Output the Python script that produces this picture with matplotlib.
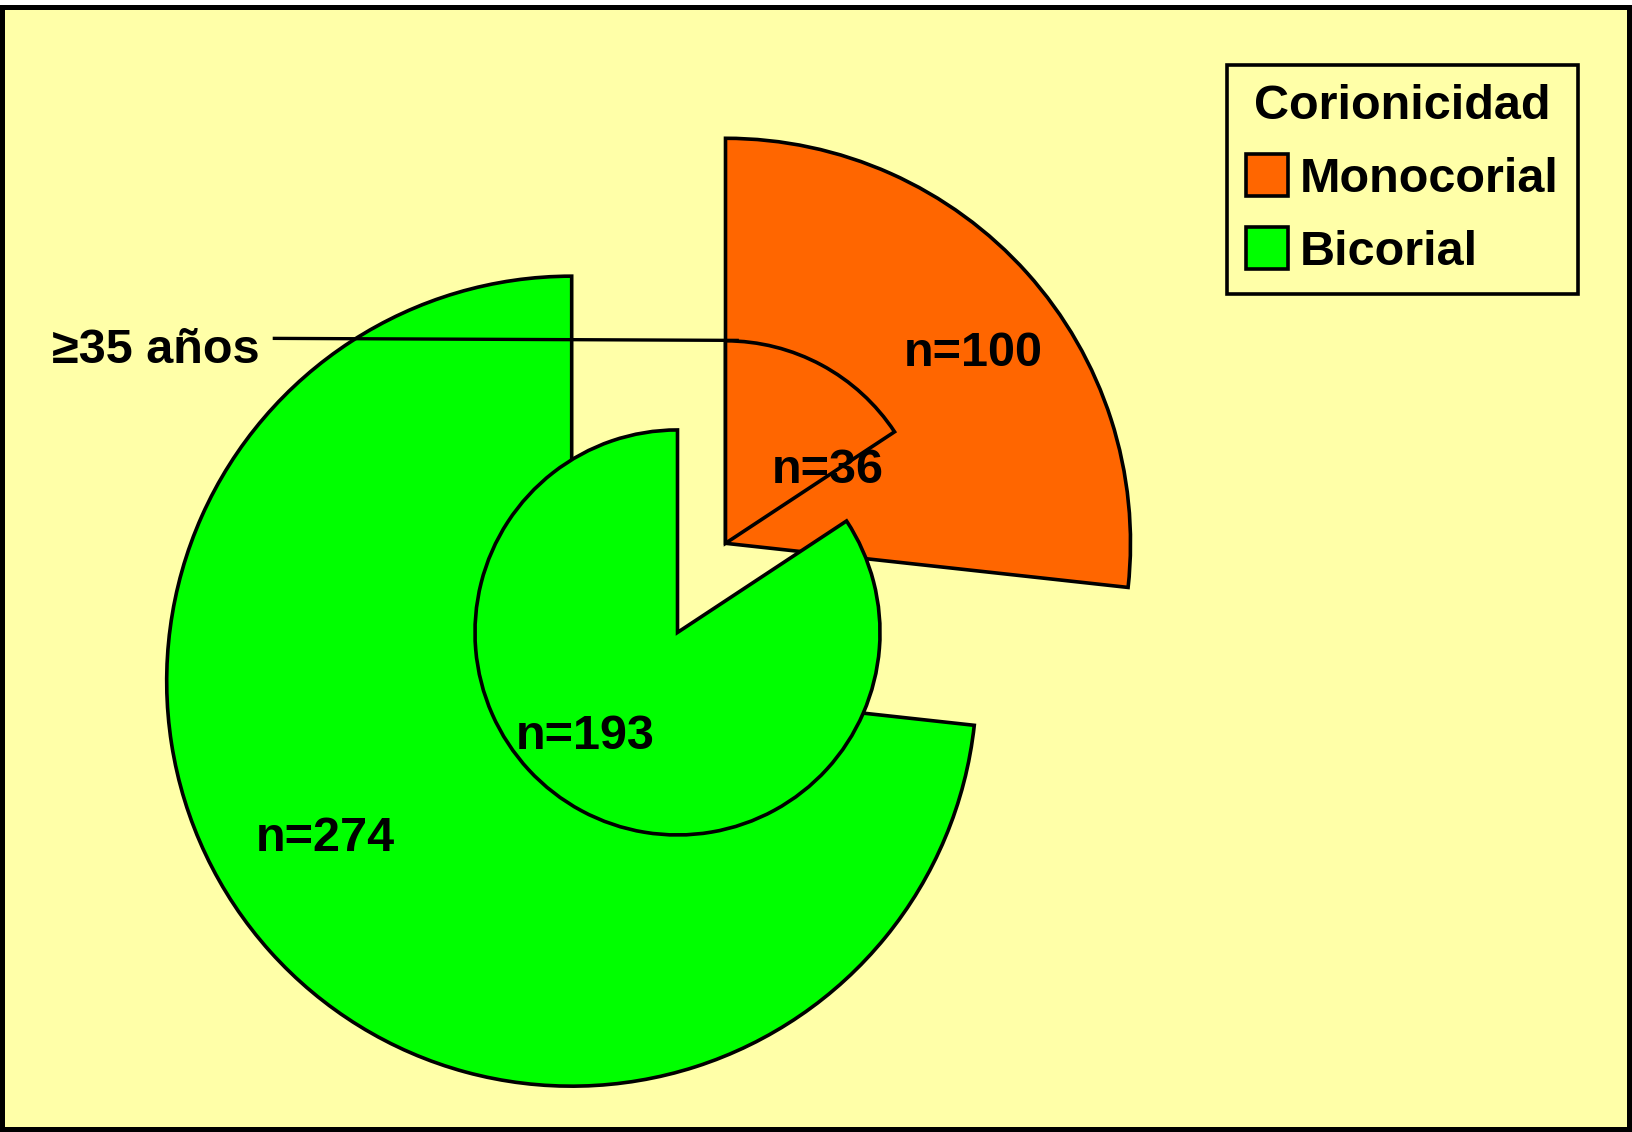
import matplotlib
matplotlib.use("Agg")
import matplotlib.pyplot as plt
import matplotlib.patches as mpatches

# data
categories = ["Monocorial", "Bicorial"]
outer_values = [100, 274]   # all
inner_values = [36, 193]    # >=35 years
outer_labels = ["n=100", "n=274"]
inner_labels = ["n=36", "n=193"]
group_label = "≥35 años"
legend_title = "Corionicidad"

colors = ["#FF6600", "#00FF00"]
bg = "#FFFFA8"

plt.rcParams["font.family"] = ["Liberation Sans", "DejaVu Sans"]

fig = plt.figure(figsize=(16.32, 11.32), dpi=100, facecolor="white")

# yellow panel with black frame
frame = mpatches.Rectangle((0.0012, 0.0027), 0.9967, 0.9911, transform=fig.transFigure,
                           facecolor=bg, edgecolor="black", linewidth=3.6, zorder=-10)
fig.patches.append(frame)

ax = fig.add_axes([0, 0, 1, 1])
ax.set_facecolor("none")

wp = dict(edgecolor="black", linewidth=2.6)
outer, _ = ax.pie(outer_values, radius=1.0, colors=colors, startangle=90,
                  counterclock=False, explode=[0, 0.51], wedgeprops=wp)
inner, _ = ax.pie(inner_values, radius=0.5, colors=colors, startangle=90,
                  counterclock=False, explode=[0, 0.25], wedgeprops=wp)

# 405 px per unit radius
px = 405.0
cx, cy = 725.5, 1132 - 543.3
ax.set_xlim(-cx / px, (1632 - cx) / px)
ax.set_ylim(-cy / px, (1132 - cy) / px)
ax.set_aspect("auto")
ax.axis("off")

fs = 35
ax.text(0.612, 0.468, outer_labels[0], ha="center", va="center", fontsize=fs, fontweight="bold")
ax.text(-0.987, -0.730, outer_labels[1], ha="center", va="center", fontsize=fs, fontweight="bold")
ax.text(0.252, 0.18, inner_labels[0], ha="center", va="center", fontsize=fs, fontweight="bold")
ax.text(-0.347, -0.476, inner_labels[1], ha="center", va="center", fontsize=fs, fontweight="bold")

# group label with leader line to the inner pie
ax.text(-1.406, 0.476, group_label, ha="center", va="center", fontsize=fs, fontweight="bold")
ax.plot([-1.118, 0.033], [0.506, 0.501], color="black", lw=2.4, solid_capstyle="butt")

leg = fig.legend(outer, categories, title=legend_title, loc="upper right",
                 bbox_to_anchor=(1578 / 1632, 1 - 64.5 / 1132), borderaxespad=0,
                 title_fontproperties={"weight": "bold", "size": fs},
                 prop={"weight": "bold", "size": fs},
                 frameon=True, fancybox=False, framealpha=1,
                 handlelength=0.85, handleheight=0.95, handletextpad=0.25,
                 labelspacing=0.52, borderpad=0.4)
leg.get_frame().set_facecolor(bg)
leg.get_frame().set_edgecolor("black")
leg.get_frame().set_linewidth(2.6)

fig.savefig("out.png", dpi=100, facecolor=fig.get_facecolor())
